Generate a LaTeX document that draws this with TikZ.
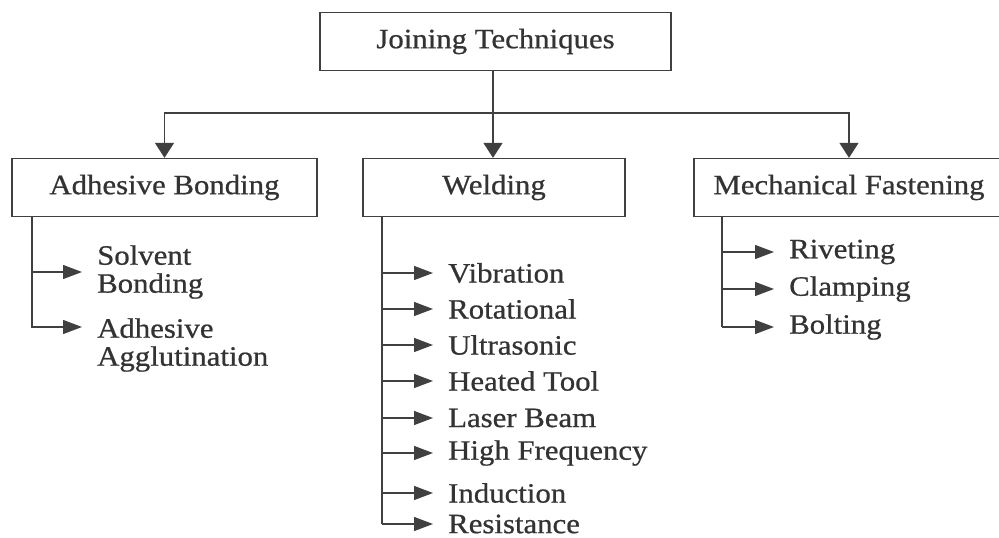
\documentclass[tikz,border=0pt]{standalone}
\usepackage{fontspec}
\setmainfont[FakeStretch=1.1,FakeBold=0.7]{Liberation Serif}
\usetikzlibrary{arrows.meta}

\begin{document}
\begin{tikzpicture}[x=1pt,y=-1pt,
    box/.style={draw=black!75, line width=1.3pt, minimum height=58pt, inner sep=0pt,
        text=black!80, font=\fontsize{28}{28}\selectfont},
    item/.style={anchor=west, inner sep=0pt, align=left, text=black!80,
        font=\fontsize{28}{28}\selectfont},
    line/.style={draw=black!75, line width=1.3pt},
    arr/.style={line, -{Triangle[length=15pt,width=19pt]}},
    sub/.style={line, -{Triangle[length=19pt,width=14pt]}, shorten >=15pt}]
    \useasboundingbox (0,0) rectangle (999,538);

    % 方框
    \node[box, minimum width=351pt] (joining) at (495.5,41.5) {Joining Techniques};
    \node[box, minimum width=305pt] (adhesive) at (164.5,187.5) {Adhesive Bonding};
    \node[box, minimum width=262pt] (welding) at (494,187.5) {Welding};
    \node[box, minimum width=310pt] (mech) at (849,187.5) {Mechanical Fastening};

    % 主箭头
    \coordinate (split) at (493,113);
    \draw[arr] (split |- joining.south) -- (split |- welding.north);
    \draw[arr] (split) -| (adhesive.north);
    \draw[arr] (split) -| (mech.north);

    % 分支竖线的位置
    \coordinate (adhTrunk) at (32,0);
    \coordinate (weldTrunk) at (382,0);
    \coordinate (mechTrunk) at (722,0);

    % Adhesive Bonding
    \node[item] (solvent) at (97,272) {Solvent\\Bonding};
    \node[item] (agglut) at (97,345) {Adhesive\\Agglutination};
    \draw[sub] (adhTrunk |- solvent.west) -- (solvent.west);
    \draw[sub] (adhesive.south -| adhTrunk) |- ([yshift=18pt]agglut.west);

    % Welding
    \foreach \name/\y/\txt in {vib/273/Vibration, rot/309/Rotational, ultra/345/Ultrasonic,
        heated/381/Heated Tool, laser/418/Laser Beam, high/453/High Frequency,
        induct/493/Induction, resist/524/Resistance}{
        \node[item] (\name) at (448,\y) {\txt};
        \draw[sub] (weldTrunk |- \name.west) -- (\name.west);
    }
    \draw[line] (welding.south -| weldTrunk) -- (weldTrunk |- resist.west);

    % Mechanical Fastening
    \foreach \name/\y/\txt in {rivet/252/Riveting, clamp/289/Clamping, bolt/327/Bolting}{
        \node[item] (\name) at (789,\y) {\txt};
        \draw[sub] (mechTrunk |- \name.west) -- (\name.west);
    }
    \draw[line] (mech.south -| mechTrunk) -- (mechTrunk |- bolt.west);
\end{tikzpicture}
\end{document}
